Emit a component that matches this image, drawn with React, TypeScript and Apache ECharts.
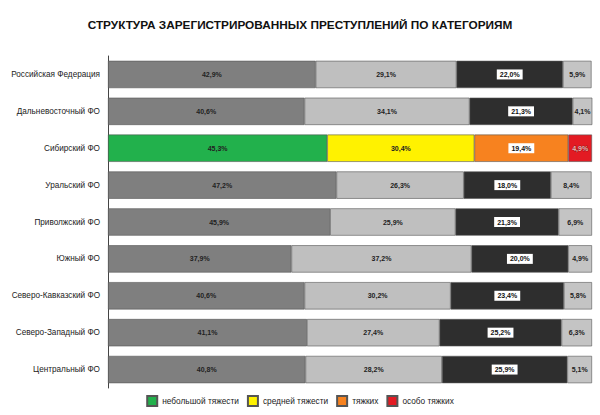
import React, { useEffect, useRef } from "react";
import * as echarts from "echarts";

const categories = [
  "Российская Федерация",
  "Дальневосточный ФО",
  "Сибирский ФО",
  "Уральский ФО",
  "Приволжский ФО",
  "Южный ФО",
  "Северо-Кавказский ФО",
  "Северо-Западный ФО",
  "Центральный ФО",
];
const seriesNames = ["небольшой тяжести", "средней тяжести", "тяжких", "особо тяжких"];
const small = [42.9, 40.6, 45.3, 47.2, 45.9, 37.9, 40.6, 41.1, 40.8];
const medium = [29.1, 34.1, 30.4, 26.3, 25.9, 37.2, 30.2, 27.4, 28.2];
const heavy = [22.0, 21.3, 19.4, 18.0, 21.3, 20.0, 23.4, 25.2, 25.9];
const special = [5.9, 4.1, 4.9, 8.4, 6.9, 4.9, 5.8, 6.3, 5.1];
const highlightIndex = 2;

const colorsMain = ["#22b14c", "#fff200", "#f7821f", "#e31b23"];
const colorsGray = ["#7f7f7f", "#bfbfbf", "#2e2e2e", "#c4c4c4"];

export default function App() {
  const ref = useRef<HTMLDivElement>(null);
  useEffect(() => {
    if (!ref.current) return;
    const chart = echarts.init(ref.current, null, { renderer: "svg" });
    const all = [small, medium, heavy, special];
    const fmt = (p: any) => p.value.toFixed(1).replace(".", ",") + "%";
    const series = all.map((arr, si) => ({
      name: seriesNames[si],
      type: "bar",
      stack: "total",
      barWidth: "74%",
      itemStyle: { color: colorsMain[si], borderColor: "#555", borderWidth: 0.6 },
      data: arr.map((v, i) => {
        const isHl = i === highlightIndex;
        const item: any = {
          value: v,
          itemStyle: { color: isHl ? colorsMain[si] : colorsGray[si] },
        };
        if (si === 2) {
          item.label = {
            backgroundColor: "#fff",
            padding: [2, 3, 1, 3],
            color: "#111",
          };
        }
        if (si === 3 && isHl) {
          item.label = {
            color: "#f3b5b5",
            textBorderColor: "#8a1a1a",
            textBorderWidth: 0.8,
          };
        }
        return item;
      }),
      label: {
        show: true,
        position: "inside",
        formatter: fmt,
        fontSize: 7,
        fontWeight: "bold",
        fontFamily: "Liberation Sans, Arial, sans-serif",
        color: "#222",
      },
    }));
    chart.setOption({
      animation: false,
      backgroundColor: "#fff",
      title: {
        text: "СТРУКТУРА ЗАРЕГИСТРИРОВАННЫХ ПРЕСТУПЛЕНИЙ ПО КАТЕГОРИЯМ",
        left: "center",
        top: 14,
        textStyle: {
          fontSize: 11.8,
          fontWeight: "bold",
          color: "#111",
          fontFamily: "Liberation Sans, Arial, sans-serif",
        },
      },
      legend: {
        bottom: 3,
        left: "center",
        itemWidth: 10,
        itemHeight: 10,
        itemGap: 8,
        icon: "rect",
        textStyle: { fontSize: 8.3, color: "#222", fontFamily: "Liberation Sans, Arial, sans-serif" },
        data: seriesNames,
      },
      grid: { left: 108, right: 8, top: 56, bottom: 27, containLabel: false },
      xAxis: { type: "value", min: 0, max: 100, show: false },
      yAxis: {
        type: "category",
        inverse: true,
        data: categories,
        axisLine: { show: true, lineStyle: { color: "#444", width: 1 } },
        axisTick: { show: false },
        axisLabel: {
          fontSize: 8.2,
          color: "#222",
          margin: 8,
          fontFamily: "Liberation Sans, Arial, sans-serif",
        },
      },
      series,
    });
    return () => chart.dispose();
  }, []);
  return <div ref={ref} style={{ width: 600, height: 415, position: "absolute", left: 0, top: 0 }} />;
}
